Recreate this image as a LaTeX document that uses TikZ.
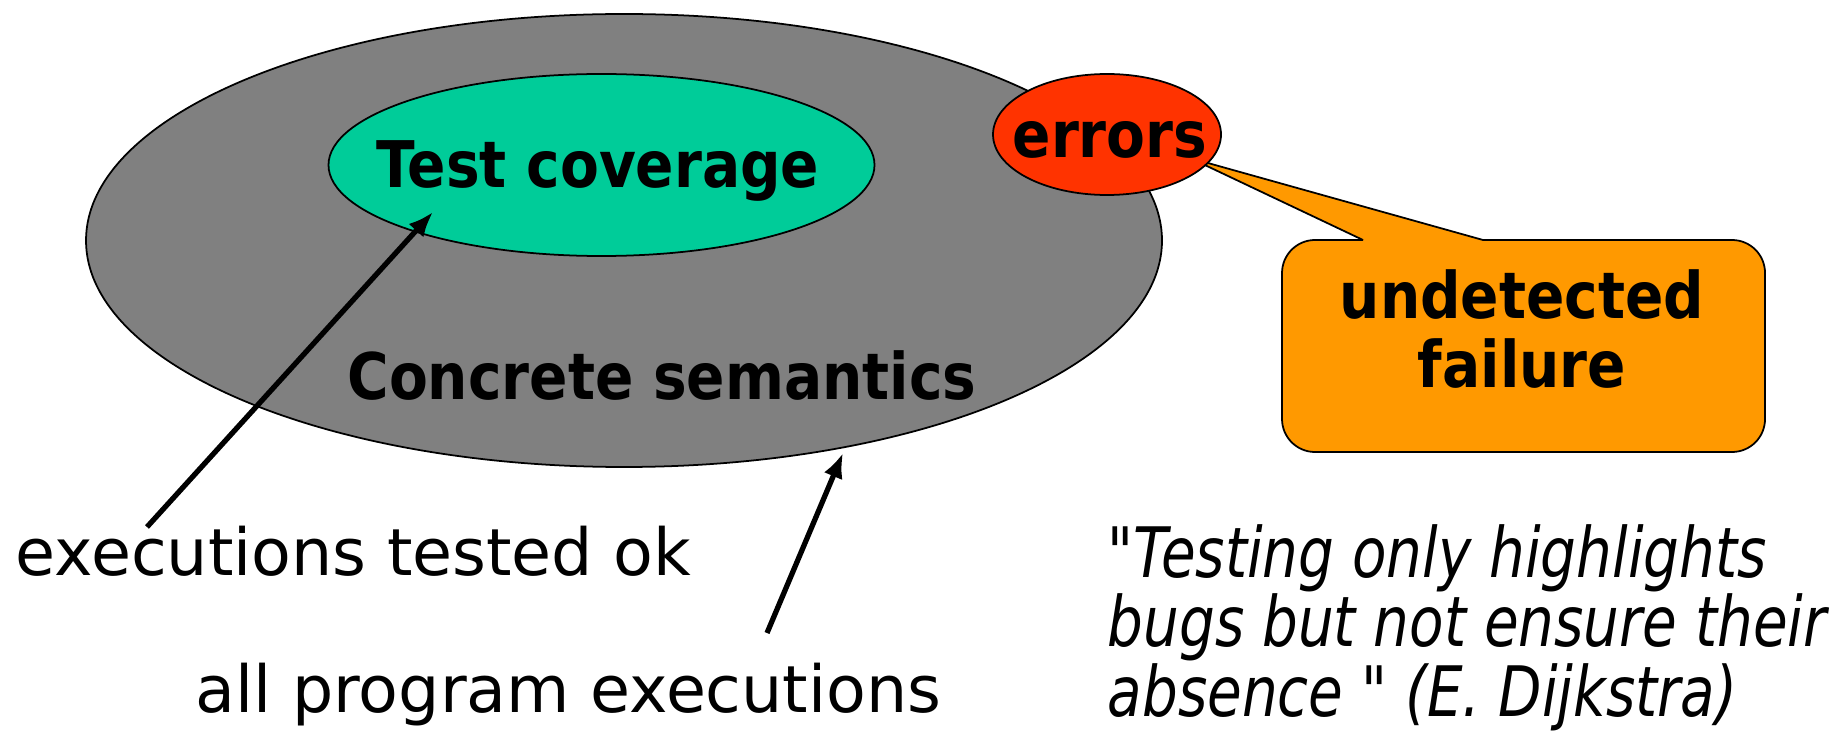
\documentclass[tikz,border=0pt]{standalone}
\usepackage{fontspec}
\setmainfont{DejaVu Sans}
\newfontfamily\boldfont[FakeStretch=0.88]{DejaVu Sans}
\newfontfamily\quotefont[FakeStretch=0.81]{DejaVu Sans}
\usepackage{tikz}
\usetikzlibrary{arrows.meta}

\definecolor{semgray}{HTML}{808080}
\definecolor{testgreen}{HTML}{00CC99}
\definecolor{errred}{HTML}{FF3300}
\definecolor{failorange}{HTML}{FF9900}

\tikzset{
    bigtext/.style={inner sep=0pt, font=\boldfont\bfseries\fontsize{18.3}{19.9}\selectfont},
    plaintext/.style={inner sep=0pt, font=\fontsize{18.5}{21}\selectfont},
    pointer/.style={line width=1.5pt, -{Latex[length=0.25cm,width=0.2cm]}}
}

\begin{document}
\begin{tikzpicture}
        \useasboundingbox (0,0) rectangle (18.4,7.33);

        % sets of executions
        \draw[line width=0.5pt, fill=semgray] (6.24,4.925) ellipse (5.38 and 2.265);
        \draw[line width=0.5pt, fill=testgreen] (6.015,5.68) ellipse (2.73 and 0.91);

        % callout
        \draw[line width=0.5pt, fill=failorange] (13.63,4.93) -- (11.90,5.75) -- (14.83,4.93)
            [rounded corners=0.33cm] -- (17.65,4.93) -- (17.65,2.81) -- (12.82,2.81) -- (12.82,4.93) -- (13.63,4.93);
        \draw[line width=0.5pt, fill=errred] (11.07,5.985) ellipse (1.14 and 0.605);

        \node[bigtext, anchor=base] (cov) at (5.98,5.45) {Test coverage};
        \node[bigtext, anchor=base] (sem) at (6.62,3.34) {Concrete semantics};
        \node[bigtext, anchor=base] (err) at (11.10,5.75) {errors};
        \node[bigtext, align=center] (fail) at (15.22,4.04) {undetected\\failure};

        \node[plaintext, anchor=base west] (tested) at (0.15,1.58) {executions tested ok};
        \node[plaintext, anchor=base west] (all) at (1.95,0.21) {all program executions};
        \node[plaintext, font=\quotefont\itshape\fontsize{19.8}{19.7}\selectfont, align=left, anchor=north west] (quote) at (11.07,2.09)
            {"Testing only highlights\\bugs but not ensure their\\absence " (E. Dijkstra)};

        \coordinate (okTail) at (1.47,2.06);
        \coordinate (okTip) at (4.33,5.21);
        \coordinate (allTail) at (7.67,1.00);
        \coordinate (allTip) at (8.43,2.80);
        \draw[pointer] (okTail) -- (okTip);
        \draw[pointer] (allTail) -- (allTip);

\end{tikzpicture}
\end{document}
